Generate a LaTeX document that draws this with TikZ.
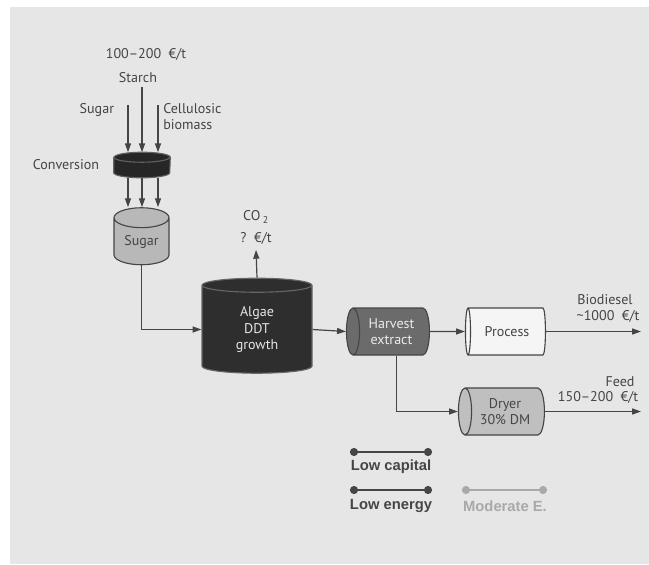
\documentclass[tikz,border=0pt]{standalone}
\usepackage{fontspec}
\setmainfont{PT Sans}
\newfontfamily\legendfont{Liberation Sans}
\usetikzlibrary{shapes.geometric,arrows.meta,positioning}
\definecolor{paper}{HTML}{E6E6E6}
\definecolor{ink}{HTML}{454545}
\definecolor{pale}{HTML}{A9A9A9}
\tikzset{
  flow/.style={draw=ink, line width=0.85pt, -{Triangle[length=2.2mm,width=1.5mm]}},
  vtank/.style={cylinder, shape border rotate=90, draw=ink, line width=0.8pt, inner sep=0pt},
  htank/.style={cylinder, shape border rotate=180, draw=ink, line width=0.8pt, inner sep=0pt,
    minimum height=20.75mm, minimum width=11.75mm, aspect=0.5, align=center},
  key/.style={line width=1.4pt, {Circle[length=2mm]}-{Circle[length=2mm]}},
  keytext/.style={font=\legendfont\bfseries\fontsize{10.5}{12}\selectfont},
}
\begin{document}
\begin{tikzpicture}[x=0.25mm, y=-0.25mm, font=\fontsize{10}{11.5}\selectfont, text=ink]
    \fill[white] (0,0) rectangle (649,564);
    \fill[paper] (10,7) rectangle (649,564);

    % raw materials
    \node (price) at (146,54) {100--200\ \ €/t};
    \node (starch) at (138,78) {Starch};
    \node[anchor=east] (sugarlbl) at (119,110) {Sugar};
    \node[anchor=north west, align=left, inner sep=0pt] (cellu) at (163,103) {Cellulosic\\biomass};
    \node[anchor=east] (convlbl) at (104,165) {Conversion};

    % conversion drum
    \node[minimum width=14mm, minimum height=6.25mm, inner sep=0pt] (conv) at (142,165) {};
    \filldraw[fill=black!85, draw=black!62, line width=0.8pt]
        ([yshift=-1.25mm]conv.north west) -- ([yshift=1.25mm]conv.south west)
        arc[start angle=180, end angle=360, x radius=7mm, y radius=1.25mm]
        -- ([yshift=-1.25mm]conv.north east)
        arc[start angle=0, end angle=180, x radius=7mm, y radius=1.25mm] -- cycle;
    \draw[black!62, line width=0.8pt] ([yshift=-1.25mm]conv.north west)
        arc[start angle=180, end angle=360, x radius=7mm, y radius=1.25mm];

    % tanks
    \node[vtank, fill=black!28, minimum width=13.75mm, minimum height=14.25mm, aspect=0.58] (sugartank) at (141.5,241.5) {Sugar};
    \node[vtank, fill=black!82, draw=black!60, minimum width=27.5mm, minimum height=23.75mm, aspect=0.33,
        text=black!10, align=center] (algae) at (257,329.5) {Algae\\DDT\\growth};
    \node[htank, fill=black!58, text=black!8] (harvest) at (391.5,331.5) {Harvest\\extract};
    \node[htank, fill=white!96!black, minimum height=20mm] (process) at (507,331.5) {Process};
    \node[htank, fill=black!25, minimum height=21.5mm] (dryer) at (505,411.5) {Dryer\\30\% DM};

    % feeds into conversion
    \coordinate (inSugar) at (128,105);
    \coordinate (inStarch) at (142,87);
    \coordinate (inCellu) at (158,105);
    \draw[flow] (inSugar) -- (inSugar |- conv.north);
    \draw[flow] (inStarch) -- (conv.north);
    \draw[flow] (inCellu) -- (inCellu |- conv.north);
    \foreach \dx in {-14,0,16}
        \draw[flow] ([xshift=\dx*0.25mm]conv.south) -- ([xshift=\dx*0.25mm]conv.south |- sugartank.north);

    \draw[flow] (sugartank.south) |- (algae.west);

    % co2
    \node (co2) at (256,217) {CO\,\textsubscript{2}};
    \node[inner sep=4pt] (co2price) at (256,238) {?\ \ €/t};
    \draw[flow] (algae.north) -- (co2price.south);

    \draw[flow] (algae.east) -- (harvest.west);
    \draw[flow] (harvest.east) -- (process.west);
    \draw[flow] ([xshift=1.3mm]harvest.south) |- (dryer.west);

    % products
    \coordinate (bioEnd) at (641,331.5);
    \coordinate (feedEnd) at (641,411.5);
    \draw[flow] (process.east) -- (bioEnd);
    \draw[flow] (dryer.east) -- (feedEnd);
    \node (biodiesel) at (605,300) {Biodiesel};
    \node (bioprice) at (608,316) {\textasciitilde1000\ \ €/t};
    \node (feed) at (620,382) {Feed};
    \node (feedprice) at (598,397) {150--200\ \ €/t};

    % legend
    \draw[key, ink] (350,452) -- (432,452);
    \draw[key, ink] (350,490) -- (432,490);
    \draw[key, pale] (462,490) -- (547,490);
    \node[keytext] (lowcap) at (391,467) {Low capital};
    \node[keytext] (lowen) at (391,506) {Low energy};
    \node[keytext, text=pale] (moder) at (505,506) {Moderate E.};
\end{tikzpicture}
\end{document}
